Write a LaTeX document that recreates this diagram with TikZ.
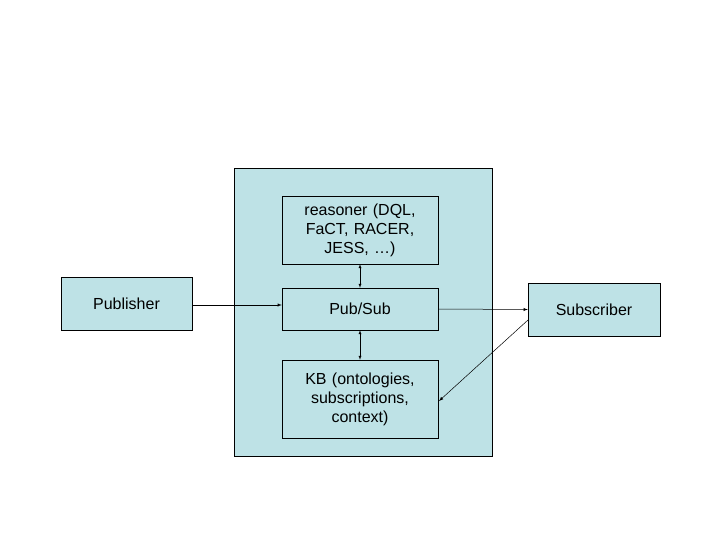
\documentclass[tikz,border=0pt]{standalone}
\usepackage{fontspec}
\setmainfont{Liberation Sans}
\usetikzlibrary{positioning}
\definecolor{boxfill}{RGB}{190,226,230}

\begin{document}
\begin{tikzpicture}[x=1pt,y=-1pt,
	blk/.style={draw, fill=boxfill, inner sep=0pt, font=\fontsize{16}{19}\selectfont, align=center},
	inner/.style={blk, minimum width=156, text width=150},
	con/.style={-latex, line width=0.5pt}]

	\useasboundingbox (0,0) rectangle (720,540);

	% ---- outer box
	\draw[fill=boxfill] (234,168) rectangle (492,456);

	\node[blk, minimum width=131, minimum height=53] (pub) at (126.5,303.5) {Publisher};
	\node[blk, minimum width=132, minimum height=53] (sub) at (594,309.5) {Subscriber};

	\node[inner, minimum height=68] (reas) at (360,230) {reasoner (DQL,\\FaCT, RACER,\\JESS, \dots)};
	\node[inner, minimum height=42] (ps) at (360,309) {Pub/Sub};
	\node[inner, minimum height=78] (kb) at (360,399) {KB (ontologies,\\subscriptions,\\context)};

	% ---- connectors
	\draw[con] (pub.east |- 0,305) -- (ps.west |- 0,305);
	\draw[con] (ps.east) -- (sub.west);
	\draw[latex-latex, line width=0.4pt] (reas) -- (ps);
	\draw[latex-latex, line width=0.4pt] (ps) -- (kb);
	\coordinate (sdep) at (528,320);
	\coordinate (karr) at (439,401);
	\draw[con] (sdep) -- (karr);

\end{tikzpicture}
\end{document}
